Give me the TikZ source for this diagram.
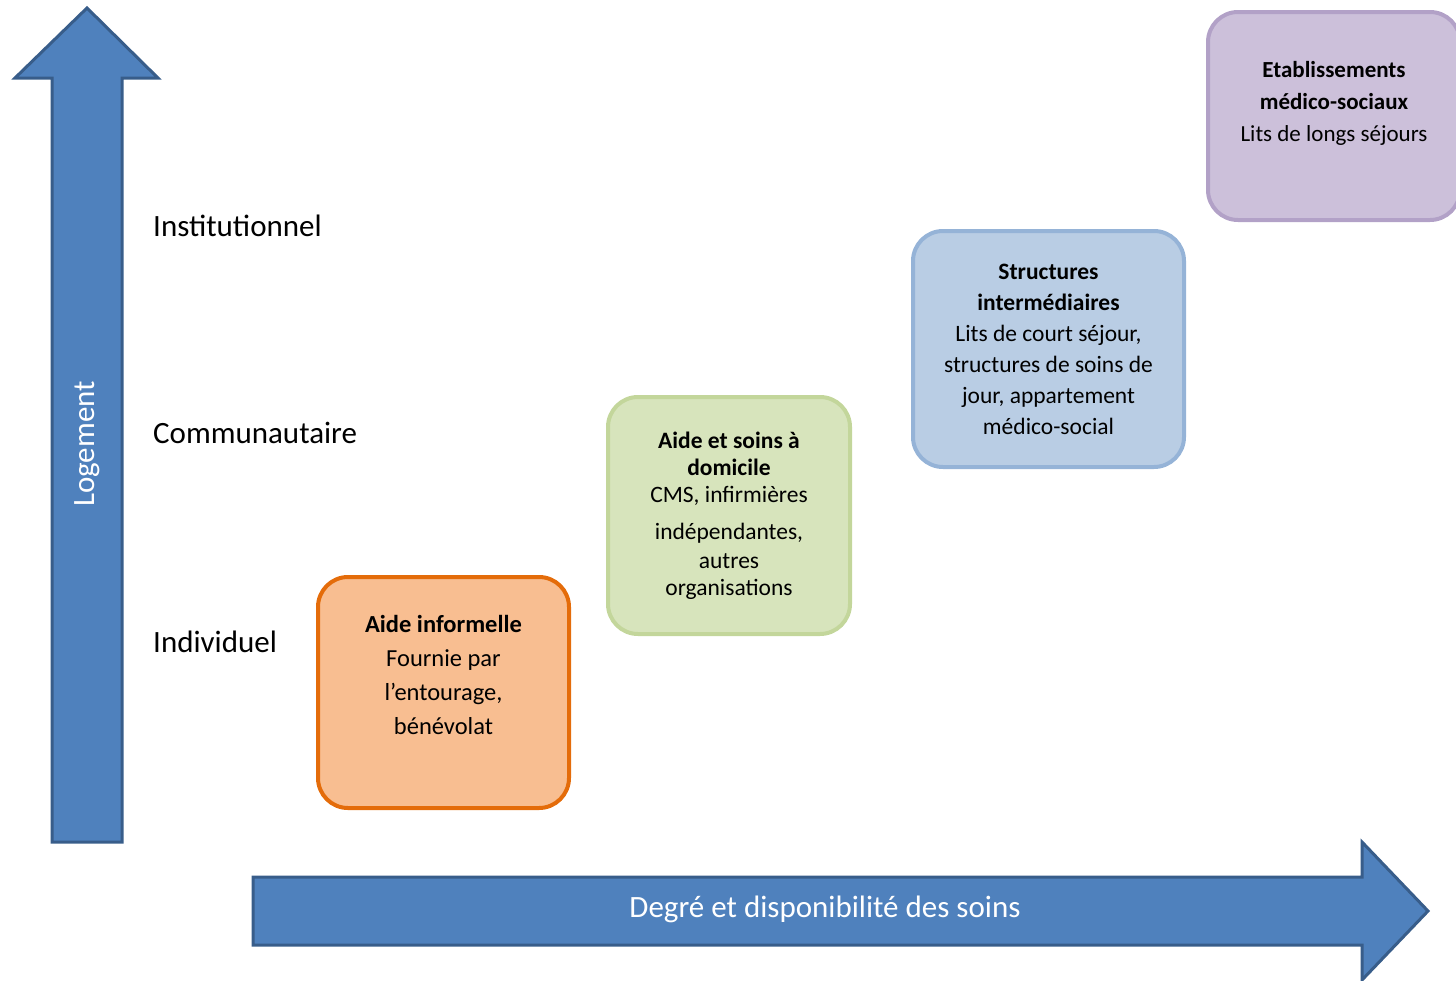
\documentclass[tikz,border=0pt]{standalone}
\usepackage{fontspec}
\setmainfont{Carlito}
\usepackage{xcolor}
\definecolor{arrowfill}{HTML}{4F81BD}
\definecolor{arrowline}{HTML}{385D8A}
\definecolor{orangefill}{RGB}{248,190,145}
\definecolor{orangeline}{RGB}{228,108,10}
\definecolor{greenfill}{RGB}{215,228,188}
\definecolor{greenline}{RGB}{195,214,155}
\definecolor{bluefill}{RGB}{185,205,228}
\definecolor{blueline}{RGB}{149,179,215}
\definecolor{purplefill}{RGB}{204,192,218}
\definecolor{purpleline}{RGB}{178,161,199}

\begin{document}
\begin{tikzpicture}[x=1pt, y=-1pt,
    bigarrow/.style={fill=arrowfill, draw=arrowline, line width=3pt, line join=miter},
    level/.style={anchor=west, inner sep=0pt, font=\fontsize{31}{34}\selectfont},
    axislabel/.style={text=white, font=\fontsize{31}{34}\selectfont},
    carebox/.style={rounded corners=30pt, line width=4pt, align=center, inner sep=0pt}]
        \useasboundingbox (0,0) rectangle (1456,980);

        % Define the axes
        \draw[bigarrow] (52,842) -- (52,78) -- (15,78) -- (87,8) -- (158,78) -- (122,78) -- (122,842) -- cycle;
        \draw[bigarrow] (253,877) -- (1362,877) -- (1362,842) -- (1428,911) -- (1362,980) -- (1362,945) -- (253,945) -- cycle;
        \node[axislabel, rotate=90] (logement) at (87,444) {Logement};
        \node[axislabel] (degre) at (825,909) {Degré et disponibilité des soins};

        % Define the levels
        \node[level] (institutionnel) at (153,226) {Institutionnel};
        \node[level] (communautaire) at (153,433) {Communautaire};
        \node[level] (individuel) at (153,642) {Individuel};

        % Define the boxes
        \node[carebox, fill=orangefill, draw=orangeline, minimum width=251pt, minimum height=231pt,
              font=\fontsize{24.5}{34}\selectfont] (informelle) at (443.5,692.5)
              {\textbf{Aide informelle}\\Fournie par\\l’entourage,\\bénévolat\\[1pt]};
        \node[carebox, fill=greenfill, draw=greenline, minimum width=242pt, minimum height=237pt,
              font=\fontsize{23.5}{27}\selectfont] (domicile) at (729,515.5)
              {\textbf{Aide et soins à}\\\textbf{domicile}\\CMS, infirmières\\[10pt]indépendantes,\\[2pt]autres\\organisations};
        \node[carebox, fill=bluefill, draw=blueline, minimum width=271pt, minimum height=236pt,
              font=\fontsize{23.5}{31}\selectfont] (intermediaires) at (1048.5,349)
              {\textbf{Structures}\\\textbf{intermédiaires}\\Lits de court séjour,\\structures de soins de\\jour, appartement\\médico-social};
        \node[carebox, fill=purplefill, draw=purpleline, minimum width=252pt, minimum height=208pt,
              font=\fontsize{23}{32}\selectfont] (etablissements) at (1334,116)
              {\textbf{Etablissements}\\\textbf{médico-sociaux}\\Lits de longs séjours\\[-2pt]};
    \end{tikzpicture}
\end{document}
